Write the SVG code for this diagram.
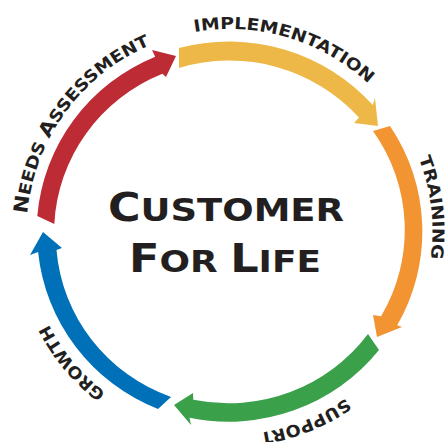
<svg xmlns="http://www.w3.org/2000/svg" width="448" height="442" viewBox="0 0 448 442">
<style>
.lbl{font-family:"DejaVu Sans",sans-serif;font-weight:bold;font-size:16.5px;fill:#231f20}
.big{font-family:"DejaVu Sans",sans-serif;font-weight:bold;fill:#231f20}
</style>
<defs>
<path id="ring" d="M385,362.5 A203,203 0 0 1 74,101.5 A203,203 0 0 1 385,362.5"/>
</defs>
<rect width="448" height="442" fill="#fff"/>
<g id="connectors">
<g id="needs-assessment-arrow"><path fill="#bd2b35" d="M37.3,216 A192.5,190 0 0 1 155.2,56.7 L152,50 L176,56 L166,77 L162.4,73.8 A174,171.5 0 0 0 54.3,224 Z"/></g>
<g id="implementation-arrow"><path fill="#edb847" d="M179,48 A192.5,190 0 0 1 372.8,105.1 L375,98 L378,126 L354,123 L359,117.5 A174,171.5 0 0 0 179,68 Z"/></g>
<g id="training-arrow"><path fill="#f29431" d="M390,126 A192.5,190 0 0 1 397.2,325.3 L402,327 L377,337 L373,315 L381.1,316.2 A174,171.5 0 0 0 373,131 Z"/></g>
<g id="support-arrow"><path fill="#3aa04a" d="M379,350 A192.5,190 0 0 1 189.5,417.8 L191,425 L174,405 L193,393 L193.3,399.7 A174,171.5 0 0 0 368,334 Z"/></g>
<g id="growth-arrow"><path fill="#0071b8" d="M158,409 A192.5,190 0 0 1 38.1,251.9 L30,255 L43,232 L62,248 L56.5,249.9 A174,171.5 0 0 0 171,397 Z"/></g>
</g>
<g id="labels">
<text class="lbl"><textPath href="#ring" startOffset="513.7" textLength="219.7" lengthAdjust="spacingAndGlyphs"><tspan font-size="19.5">N</tspan>EEDS <tspan font-size="19.5">A</tspan>SSESSMENT</textPath></text>
<text class="lbl"><textPath href="#ring" startOffset="779.5" textLength="187.8" lengthAdjust="spacingAndGlyphs">IMPLEMENTATION</textPath></text>
<text class="lbl"><textPath href="#ring" startOffset="1057.6" textLength="102.7" lengthAdjust="spacingAndGlyphs">TRAINING</textPath></text>
<text class="lbl"><textPath href="#ring" startOffset="53.1" textLength="93.9" lengthAdjust="spacingAndGlyphs">SUPPORT</textPath></text>
<text class="lbl"><textPath href="#ring" startOffset="310" textLength="90.3" lengthAdjust="spacingAndGlyphs">GROWTH</textPath></text>
</g>
<g id="center-title">
<text class="big" x="108" y="221" font-size="32" textLength="236" lengthAdjust="spacingAndGlyphs"><tspan font-size="38.5">C</tspan>USTOMER</text>
<text class="big" x="129" y="272" font-size="31" textLength="192" lengthAdjust="spacingAndGlyphs"><tspan font-size="38.5">F</tspan>OR <tspan font-size="38.5">L</tspan>IFE</text>
</g>
</svg>
